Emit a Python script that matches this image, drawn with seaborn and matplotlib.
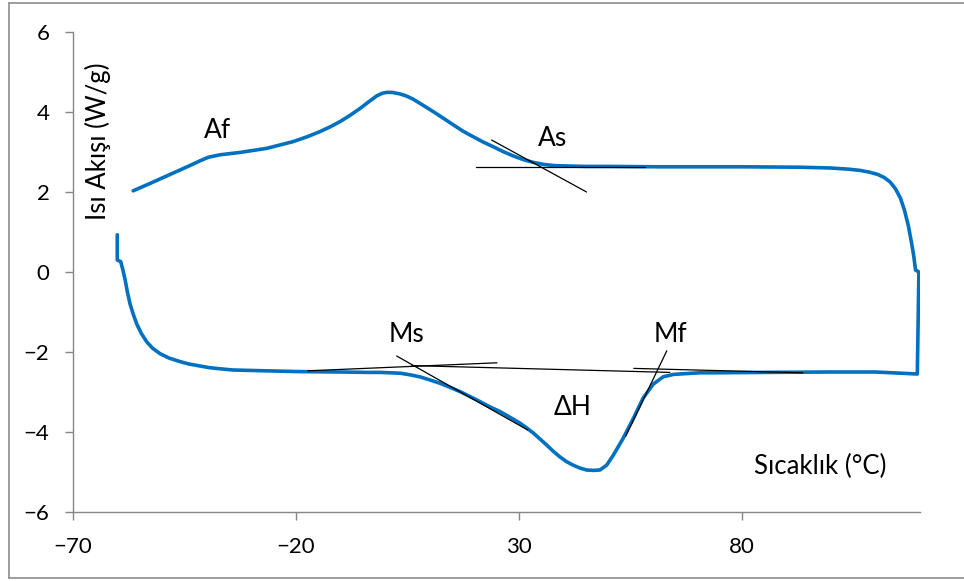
import matplotlib
matplotlib.use("Agg")
import matplotlib.pyplot as plt
from matplotlib.lines import Line2D
import numpy as np
import pandas as pd
import seaborn as sns

# ---- data ----
# heating branch (top), left to right, then down the right edge
heat_x = [-56.5, -52.0, -48.0, -44.0, -41.5, -39.6, -37.0, -32.5, -26.6, -20.6, -17.5,
          -14.6, -12.3, -10.1, -7.8, -5.6, -3.6, -1.9, -0.6, 0.4, 1.6, 3.4, 4.8, 6.3,
          8.5, 10.8, 13.0, 15.3, 17.5, 19.8, 22.0, 24.3, 26.5, 28.8, 31.0, 33.3, 35.5,
          38.0, 41.0, 45.0, 50.0, 61.6, 80.0, 93.0, 100.0, 104.0, 106.5, 108.5, 110.5,
          112.0, 113.3, 114.5, 115.6, 116.5, 117.4, 118.1, 118.6, 119.0, 119.75, 119.4]
heat_y = [2.03, 2.25, 2.45, 2.65, 2.78, 2.87, 2.93, 2.99, 3.09, 3.26, 3.38,
          3.51, 3.63, 3.76, 3.92, 4.09, 4.26, 4.40, 4.47, 4.49, 4.49, 4.45, 4.40, 4.32,
          4.17, 4.01, 3.85, 3.68, 3.52, 3.38, 3.25, 3.13, 3.01, 2.90, 2.81, 2.74, 2.69,
          2.66, 2.65, 2.64, 2.64, 2.63, 2.63, 2.62, 2.60, 2.57, 2.54, 2.50, 2.44,
          2.36, 2.25, 2.08, 1.85, 1.55, 1.15, 0.73, 0.40, 0.05, 0.0, -2.55]
# cooling branch (bottom), right to left, then up the left edge
cool_x = [110.0, 99.7, 85.0, 73.5, 70.6, 67.5, 64.7, 62.4, 60.2, 57.9, 55.7, 53.4,
          51.2, 49.7, 48.2, 46.8, 45.2, 43.7, 42.2, 40.7, 39.2, 37.7, 36.3, 34.8,
          33.3, 31.8, 30.3, 28.0, 25.8, 23.5, 21.3, 19.0, 16.8, 14.5, 12.3, 10.1,
          7.8, 5.6, 3.4, 1.1, -1.1, -4.1, -10.0, -19.1, -27.0, -34.1, -37.0, -39.5,
          -41.5, -44.0, -46.0, -48.5, -50.5, -52.2, -53.5, -54.7, -55.7, -56.5, -57.2,
          -57.8, -58.3, -58.8, -59.3, -60.07, -60.07]
cool_y = [-2.50, -2.50, -2.51, -2.52, -2.52, -2.54, -2.56, -2.62, -2.80, -3.15, -3.66, -4.16,
          -4.58, -4.83, -4.95, -4.96, -4.95, -4.90, -4.83, -4.74, -4.62, -4.48, -4.33, -4.18,
          -4.03, -3.90, -3.78, -3.63, -3.49, -3.37, -3.24, -3.11, -2.99, -2.88, -2.78, -2.70,
          -2.62, -2.57, -2.53, -2.52, -2.51, -2.51, -2.50, -2.49, -2.47, -2.45, -2.42, -2.39,
          -2.35, -2.30, -2.24, -2.15, -2.04, -1.90, -1.74, -1.53, -1.30, -1.05, -0.80,
          -0.50, -0.20, 0.05, 0.26, 0.30, 0.93]

# tangent / baseline construction lines (x0, x1, y0, y1)
tan_x0 = [20.4, 23.9, -17.3, 6.0, 55.8, 2.6, 63.2]
tan_x1 = [58.3, 45.2, 25.1, 63.9, 93.7, 32.0, 54.0]
tan_y0 = [2.63, 3.30, -2.47, -2.34, -2.41, -2.10, -1.97]
tan_y1 = [2.63, 2.00, -2.27, -2.51, -2.52, -3.95, -4.10]

label_text = ["Af", "As", "Ms", "Mf", "ΔH"]
label_x = [-37.7, 37.6, 4.9, 64.1, 42.1]
label_y = [3.55, 3.33, -1.55, -1.55, -3.38]

x_ticks = [-70, -20, 30, 80]
y_ticks = [-6, -4, -2, 0, 2, 4, 6]
x_title = "Sıcaklık (°C)"
y_title = "Isı Akışı (W/g)"

# ---- plotting ----
sns.set_theme(style="white")
plt.rcParams['font.family'] = ['Lato', 'DejaVu Sans']

W, H = 964, 581
fig = plt.figure(figsize=(W / 100, H / 100), dpi=100)
ax = fig.add_axes([73 / W, 1 - 512 / H, (920 - 73) / W, (512 - 32) / H])

curve = pd.DataFrame({"T": heat_x + cool_x, "Q": heat_y + cool_y})
sns.lineplot(data=curve, x="T", y="Q", sort=False, estimator=None,
             color="#0070C0", linewidth=2.6, ax=ax,
             solid_joinstyle="round", solid_capstyle="round")

rows = []
for i, (a, b, c, d) in enumerate(zip(tan_x0, tan_x1, tan_y0, tan_y1)):
    rows.append({"x": a, "y": c, "seg": i})
    rows.append({"x": b, "y": d, "seg": i})
tan = pd.DataFrame(rows)
sns.lineplot(data=tan, x="x", y="y", units="seg", estimator=None, sort=False,
             color="black", linewidth=0.9, ax=ax)

for t, x, y in zip(label_text, label_x, label_y):
    ax.text(x, y, t, ha="center", va="center", fontsize=19, color="black")
ax.text(97.5, -4.85, x_title, ha="center", va="center", fontsize=18.5, color="black")
ax.text(-64.4, 3.28, y_title, ha="center", va="center", rotation=90,
        fontsize=18.5, color="black")

ax.set_xlim(-70, 120)
ax.set_ylim(-6, 6)
ax.set_xticks(x_ticks)
ax.set_yticks(y_ticks)
ax.set_xlabel("")
ax.set_ylabel("")
for s in ["top", "right"]:
    ax.spines[s].set_visible(False)
for s in ["left", "bottom"]:
    ax.spines[s].set_color("#868686")
    ax.spines[s].set_linewidth(1.0)
ax.tick_params(bottom=True, left=True, direction="out", length=6, width=1,
               color="#868686", labelsize=16, labelcolor="black")
ax.tick_params(axis="y", pad=11)
ax.tick_params(axis="x", pad=12)
ax.grid(False)

# outer chart-area border
bc = "#8c8c8c"
fig.add_artist(Line2D([9 / W, 9 / W], [3 / H, 1 - 3 / H], color=bc, lw=1.2))
fig.add_artist(Line2D([9 / W, 1.0], [1 - 3 / H, 1 - 3 / H], color=bc, lw=1.2))
fig.add_artist(Line2D([9 / W, 1.0], [3 / H, 3 / H], color=bc, lw=1.2))

fig.savefig("out.png", dpi=100)
